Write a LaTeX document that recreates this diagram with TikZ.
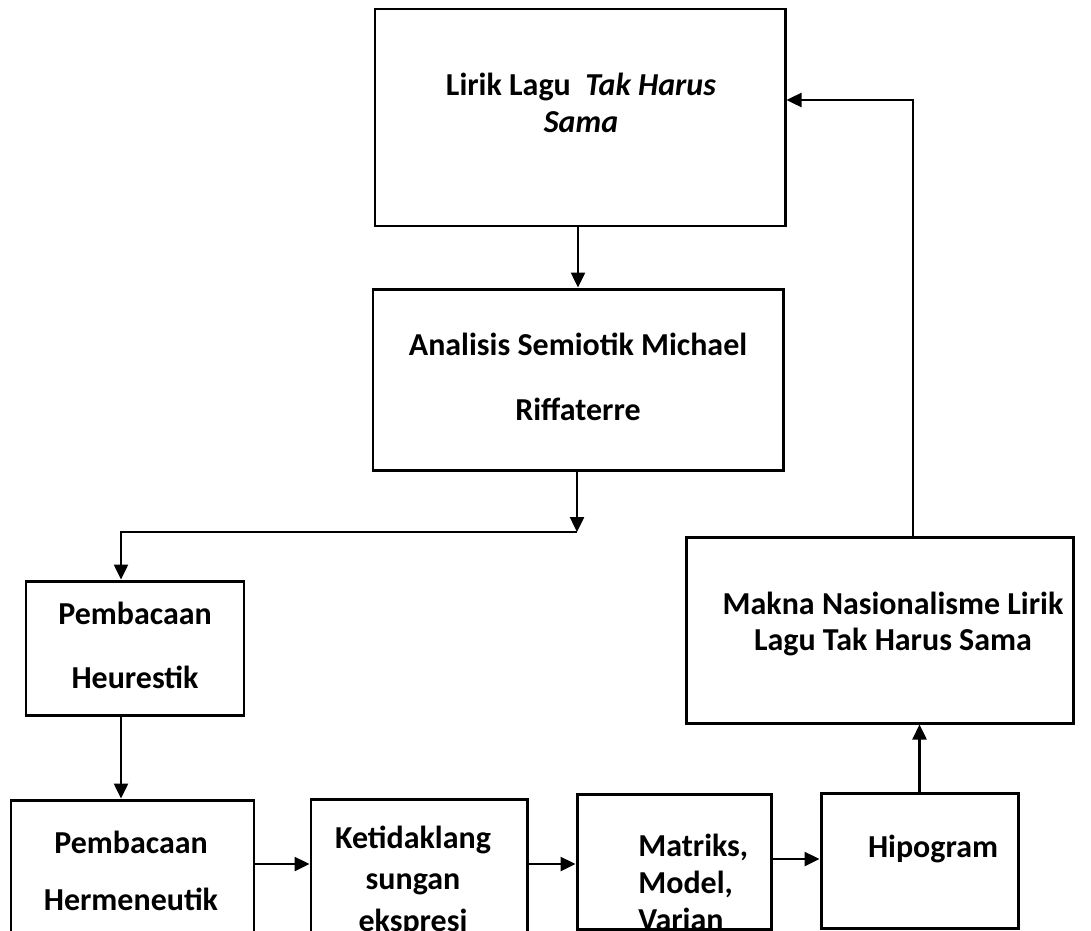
\documentclass[tikz,border=0pt]{standalone}
\usepackage{fontspec}
\setmainfont{Carlito}
\usetikzlibrary{arrows.meta}
\begin{document}
\begin{tikzpicture}[x=0.02cm, y=-0.02cm,
                box/.style 2 args={draw, rectangle, line width=1.7pt,
                    minimum width=#1*0.02cm,
                    minimum height=#2*0.02cm,
                    inner sep=0pt},
                txt/.style={font=\bfseries\fontsize{18.2}{#1}\selectfont,
                    align=center, inner sep=0pt},
                arr/.style={-{Triangle[width=0.28cm,length=0.3cm]},
                    line width=1.4pt}]
  \useasboundingbox (0,0) rectangle (1091,930);
  \clip (0,0) rectangle (1091,930);
  % boxes
  \node[box={410}{217}] (lirik) at (580,117.5) {};
  \node[box={410}{181}] (analisis) at (578,379.5) {};
  \node[box={218}{134}] (heur) at (135,648) {};
  \node[box={243}{140}] (herm) at (132.5,870) {};
  \node[box={216}{164}] (ketid) at (419,881) {};
  \node[box={194}{135}] (matr) at (674,861.5) {};
  \node[box={197}{135}] (hipo) at (919.5,860.5) {};
  \node[box={387}{186}] (makna) at (879.5,630) {};
  % texts
  \node[txt=21pt] (tlirik) at (581,103) {Lirik Lagu~ \textit{Tak Harus}\\\textit{Sama}};
  \node[txt=37pt] (tanalisis) at (578,377) {Analisis Semiotik Michael\\Riffaterre};
  \node[txt=36.4pt] (theur) at (135,645) {Pembacaan\\Heurestik};
  \node[txt=32.4pt] (therm) at (131,870.5) {Pembacaan\\Hermeneutik};
  \node[txt=23.6pt] (tketid) at (413,881) {Ketidaklang\\sungan\\ekspresi};
  \node[txt=21pt, align=left, anchor=west] (tmatr) at (638,882) {Matriks,\\Model,\\Varian};
  \node[txt=21pt] (thipo) at (933,849) {Hipogram};
  \node[txt=20.5pt] (tmakna) at (893,624) {Makna Nasionalisme Lirik\\Lagu Tak Harus Sama};
  % connectors
  \coordinate (split) at (577,532);
  \coordinate (bend) at (121,532);
  \coordinate (back) at (913,100);
  \draw[arr] (lirik.south -| analisis.north) -- (analisis.north);
  \draw[arr] (analisis.south -| split) -- (split);
  \draw[arr] (split) -- (bend) -- (bend |- heur.north);
  \draw[arr] (bend |- heur.south) -- (bend |- herm.north);
  \draw[arr] (herm.east |- 0,864) -- (ketid.west |- 0,864);
  \draw[arr] (ketid.east |- 0,864) -- (matr.west |- 0,864);
  \draw[arr] (matr.east |- 0,859) -- (hipo.west |- 0,859);
  \draw[arr] (hipo.north) -- (hipo.north |- makna.south);
  \draw[arr] (back |- makna.north) -- (back) -- (back -| lirik.east);
\end{tikzpicture}
\end{document}
